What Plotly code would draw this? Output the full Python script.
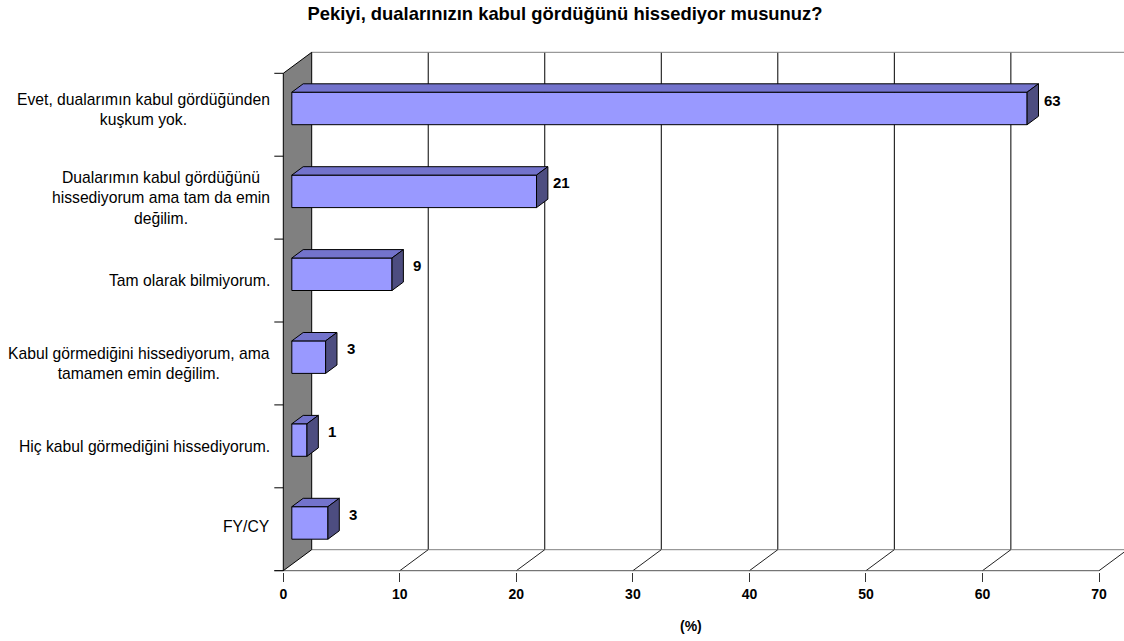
import plotly.graph_objects as go

# ---------------- data ----------------
categories = [
    "Evet, dualarımın kabul gördüğünden<br>kuşkum yok.",
    "Dualarımın kabul gördüğünü<br>hissediyorum ama tam da emin<br>değilim.",
    "Tam olarak bilmiyorum.",
    "Kabul görmediğini hissediyorum, ama<br>tamamen emin değilim.",
    "Hiç kabul görmediğini hissediyorum.",
    "FY/CY",
]
values = [63.1, 21.0, 8.6, 2.9, 1.3, 3.1]
x_ticks = [0, 10, 20, 30, 40, 50, 60, 70]
title_text = "Pekiyi, dualarınızın kabul gördüğünü hissediyor musunuz?"
x_title = "(%)"

# ---------------- geometry / style ----------------
W, H = 1124, 641
X0_PX, X70_PX = 283.3, 1099.0
TOP_PX, BOT_PX = 73.3, 570.7
S = (X70_PX - X0_PX) / (x_ticks[-1] - x_ticks[0])      # px per % unit
n = len(categories)
BAND = (BOT_PX - TOP_PX) / n                          # px per category
ML, MR, MT, MB = 250, 0, 40, 69
PLOT_TOP, PLOT_BOT = MT, H - MB

x_range = [(ML - X0_PX) / S, (W - MR - X0_PX) / S]
y_range = [(PLOT_BOT - TOP_PX) / BAND - 0.5, (PLOT_TOP - TOP_PX) / BAND - 0.5]

DX = 28.4 / S        # depth offset in x units
DY = 21.0 / BAND     # depth offset in y units (upwards)
GAP_F, BAR_D = 0.3, 0.4
BAR_W = 32.5 / BAND
TICK_L = 9.0 / S

FONT = "Arial, Liberation Sans, sans-serif"
FRONT_C, TOP_C, SIDE_C = "#9999FF", "#7373CC", "#4D4D80"
WALL_C = "#808080"
label_yshift = [5, 0, 0, 0, 0, 3]

y_top = -0.5
y_bot = n - 0.5
x_max = x_range[1]

shapes = []
for v in x_ticks[1:]:
    shapes.append(dict(type="line", xref="x", yref="y", layer="below",
                       x0=v + DX, x1=v + DX, y0=y_bot - DY, y1=y_top - DY,
                       line=dict(color="#000000", width=1)))
shapes.append(dict(type="line", xref="x", yref="y", layer="below",
                   x0=DX, x1=x_max, y0=y_top - DY, y1=y_top - DY,
                   line=dict(color=WALL_C, width=1)))
shapes.append(dict(type="line", xref="x", yref="y", layer="below",
                   x0=DX, x1=x_max, y0=y_bot - DY, y1=y_bot - DY,
                   line=dict(color=WALL_C, width=1)))
for v in x_ticks[1:]:
    shapes.append(dict(type="line", xref="x", yref="y", layer="below",
                       x0=v, x1=v + DX, y0=y_bot, y1=y_bot - DY,
                       line=dict(color="#222222", width=1)))
shapes.append(dict(type="line", xref="x", yref="y", layer="below",
                   x0=-TICK_L, x1=x_ticks[-1], y0=y_bot, y1=y_bot,
                   line=dict(color="#555555", width=1)))
shapes.append(dict(type="path", xref="x", yref="y", layer="below",
                   path=f"M 0 {y_bot} L 0 {y_top} L {DX} {y_top - DY} L {DX} {y_bot - DY} Z",
                   fillcolor=WALL_C, line=dict(color="#000000", width=1)))
for k in range(n + 1):
    b = y_top + k
    shapes.append(dict(type="line", xref="x", yref="y", layer="below",
                       x0=-TICK_L, x1=0, y0=b, y1=b,
                       line=dict(color="#000000", width=1)))

fig = go.Figure()

bx = GAP_F * DX
by = GAP_F * DY
dx = BAR_D * DX
dy = BAR_D * DY
yc = [i - by for i in range(n)]

fig.add_trace(go.Bar(
    x=values, y=yc, base=bx, orientation="h", width=BAR_W,
    marker=dict(color=FRONT_C, line=dict(color="#000000", width=1)),
    hoverinfo="skip", showlegend=False,
))

tx, ty, sx, sy = [], [], [], []
for v, c in zip(values, yc):
    t = c - BAR_W / 2
    b = c + BAR_W / 2
    tx += [bx, bx + v, bx + v + dx, bx + dx, bx, None]
    ty += [t, t, t - dy, t - dy, t, None]
    sx += [bx + v, bx + v + dx, bx + v + dx, bx + v, bx + v, None]
    sy += [t, t - dy, b - dy, b, t, None]
fig.add_trace(go.Scatter(x=tx, y=ty, mode="lines", fill="toself", fillcolor=TOP_C,
                         line=dict(color="#000000", width=1), hoverinfo="skip",
                         showlegend=False))
fig.add_trace(go.Scatter(x=sx, y=sy, mode="lines", fill="toself", fillcolor=SIDE_C,
                         line=dict(color="#000000", width=1), hoverinfo="skip",
                         showlegend=False))

annotations = []
for v, c in zip(values, yc):
    annotations.append(dict(x=bx + v + dx, y=c - dy, xref="x", yref="y",
                            text=f"{v:.0f}", showarrow=False, xanchor="center",
                            yanchor="middle", xshift=14,
                            font=dict(family=FONT, size=15, color="#000000", weight="bold")))
for i, cat in enumerate(categories):
    annotations.append(dict(x=-TICK_L, y=i, xref="x", yref="y", text=cat,
                            showarrow=False, xanchor="right", yanchor="middle",
                            align="center", xshift=-2, yshift=label_yshift[i],
                            font=dict(family=FONT, size=15.7, color="#000000")))
annotations.append(dict(x=(x_ticks[0] + x_ticks[-1]) / 2,
                        y=(PLOT_BOT - 626) / (PLOT_BOT - PLOT_TOP),
                        xref="x", yref="paper", text=x_title, showarrow=False,
                        xanchor="center", yanchor="middle",
                        font=dict(family=FONT, size=14, color="#000000", weight="bold")))

fig.update_layout(
    width=W, height=H,
    margin=dict(l=ML, r=MR, t=MT, b=MB, pad=0),
    paper_bgcolor="#FFFFFF", plot_bgcolor="#FFFFFF",
    title=dict(text=title_text, x=565 / W, xanchor="center", xref="container",
               y=1 - 14 / H, yanchor="middle", yref="container",
               font=dict(family=FONT, size=18.4, color="#000000", weight="bold")),
    xaxis=dict(range=x_range, tickvals=x_ticks, ticktext=[str(t) for t in x_ticks],
               ticks="outside", ticklen=9, tickcolor="#333333", tickwidth=1,
               showgrid=False, zeroline=False, showline=False,
               tickfont=dict(family=FONT, size=14, color="#000000", weight="bold"),
               fixedrange=True),
    yaxis=dict(range=y_range, showticklabels=False, showgrid=False, zeroline=False,
               showline=False, ticks="", fixedrange=True),
    shapes=shapes,
    annotations=annotations,
    showlegend=False,
    hovermode=False,
)

fig.write_html("out.html",
               config={"displayModeBar": False, "staticPlot": True},
               post_script="document.body.style.margin='0';document.body.style.overflow='hidden';")
